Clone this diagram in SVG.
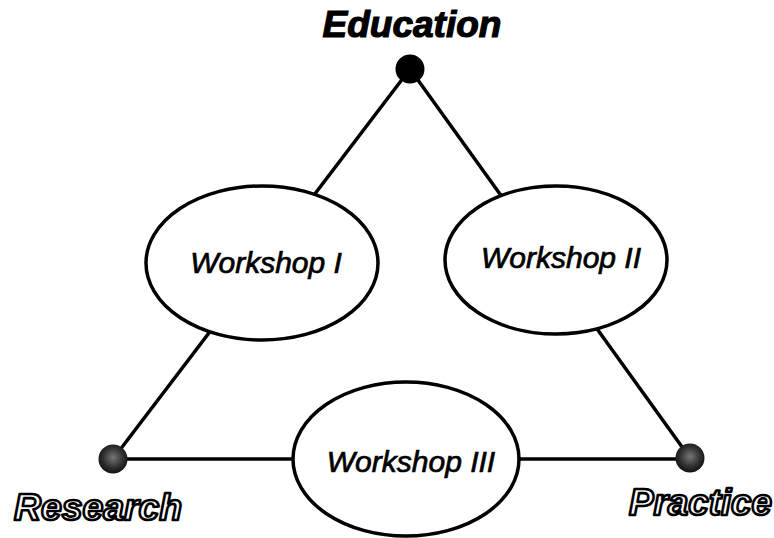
<svg xmlns="http://www.w3.org/2000/svg" width="774" height="538" viewBox="0 0 774 538">
<style>
.edge{stroke:#000;stroke-width:3.5;fill:none}
.ws{fill:#fff;stroke:#000;stroke-width:3.5}
.wt{font-family:"Liberation Sans",Arial,sans-serif;font-style:italic;font-size:30px;fill:#000;stroke:#000;stroke-width:0.7}
.vt{font-family:"Liberation Sans",Arial,sans-serif;font-style:italic;font-weight:bold;font-size:37px}
.outl{fill:#fff;stroke:#000;stroke-width:2.6;stroke-linejoin:round}
</style>
<defs>
<radialGradient id="speck" cx="0.5" cy="0.45" r="0.55">
<stop offset="0" stop-color="#777"/>
<stop offset="0.6" stop-color="#333"/>
<stop offset="1" stop-color="#111"/>
</radialGradient>
</defs>
<rect width="774" height="538" fill="#fff"/>
<g id="connectors">
<line class="edge" x1="410" y1="69" x2="113" y2="459"/>
<line class="edge" x1="410" y1="69" x2="690" y2="458"/>
<line class="edge" x1="113" y1="459" x2="690" y2="459"/>
</g>
<g id="education">
<circle cx="410" cy="69" r="14.5" fill="#000"/>
<text class="vt" x="412" y="37" text-anchor="middle" fill="#000" stroke="#000" stroke-width="1.2">Education</text>
</g>
<g id="research">
<circle cx="113" cy="459" r="14.5" fill="url(#speck)"/>
<text class="vt outl" x="14" y="520" textLength="168" lengthAdjust="spacingAndGlyphs">Research</text>
</g>
<g id="practice">
<circle cx="690" cy="458" r="14.5" fill="url(#speck)"/>
<text class="vt outl" x="629" y="515" textLength="143" lengthAdjust="spacingAndGlyphs">Practice</text>
</g>
<g id="workshop1">
<ellipse class="ws" cx="262" cy="263" rx="116" ry="77"/>
<text class="wt" x="266" y="273" text-anchor="middle">Workshop I</text>
</g>
<g id="workshop2">
<ellipse class="ws" cx="556" cy="260" rx="111" ry="74"/>
<text class="wt" x="561" y="268" text-anchor="middle">Workshop II</text>
</g>
<g id="workshop3">
<ellipse class="ws" cx="406" cy="459" rx="113" ry="77"/>
<text class="wt" x="411" y="472" text-anchor="middle">Workshop III</text>
</g>
</svg>
